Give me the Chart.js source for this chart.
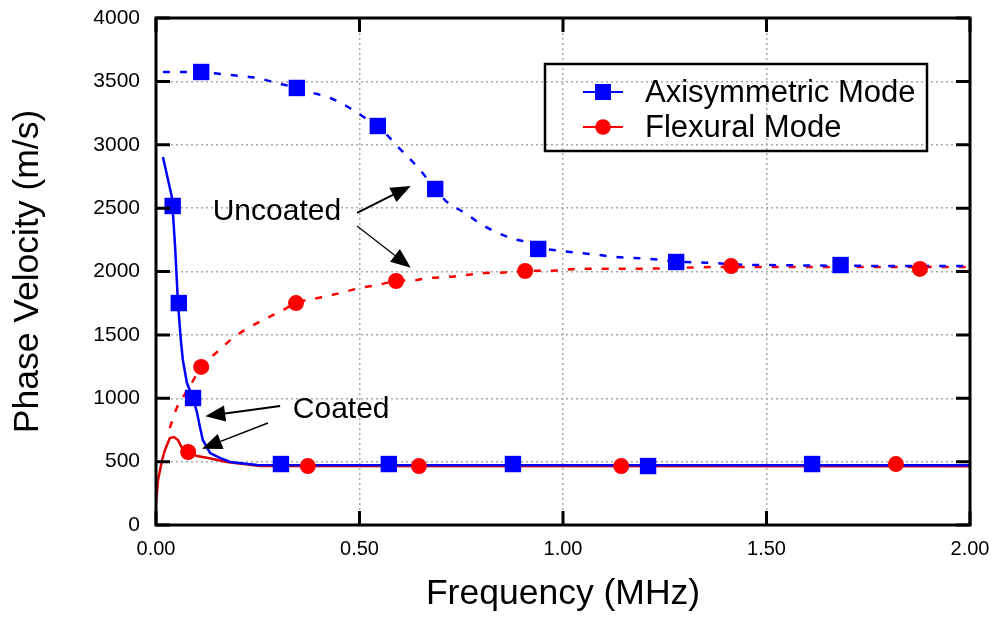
<!DOCTYPE html>
<html>
<head>
<meta charset="utf-8">
<title>Phase Velocity vs Frequency</title>
<script src="https://cdn.jsdelivr.net/npm/chart.js@4.4.1/dist/chart.umd.min.js"></script>
<style>
    html, body { margin: 0; padding: 0; background: #fff; }
    #wrap { width: 995px; height: 621px; }
</style>
</head>
<body>
<div id="wrap"><canvas id="phaseChart" width="995" height="621"></canvas></div>
<script>

// tick values (labels are formatted from these)
const xTickValues = [0, 0.5, 1.0, 1.5, 2.0];
const yTickValues = [0, 500, 1000, 1500, 2000, 2500, 3000, 3500, 4000];

// Axisymmetric mode, uncoated (dashed blue)
const axiUncoatedFreq = [0.017, 0.111, 0.162, 0.206, 0.248, 0.297, 0.346, 0.378, 0.428, 0.472, 0.514, 0.545, 0.563, 0.595, 0.649, 0.686, 0.715, 0.759, 0.794, 0.830, 0.872, 0.916, 0.939, 0.998, 1.044, 1.088, 1.130, 1.216, 1.278, 1.351, 1.432, 1.523, 1.705, 2.0];
const axiUncoatedVel = [3574, 3572, 3558, 3542, 3527, 3487, 3448, 3416, 3369, 3298, 3211, 3148, 3093, 2982, 2801, 2651, 2548, 2462, 2383, 2320, 2264, 2225, 2190, 2162, 2146, 2130, 2114, 2099, 2078, 2070, 2055, 2050, 2045, 2043];
const axiUncoatedMarkFreq = [0.111, 0.346, 0.545, 0.686, 0.939, 1.278, 1.682];
const axiUncoatedMarkVel = [3574, 3448, 3148, 2651, 2178, 2075, 2051];

// Flexural mode, uncoated (dashed red)
const flexUncoatedFreq = [0.034, 0.042, 0.052, 0.081, 0.111, 0.150, 0.189, 0.226, 0.273, 0.312, 0.344, 0.410, 0.452, 0.501, 0.543, 0.590, 0.631, 0.673, 0.717, 0.762, 0.808, 0.853, 0.907, 0.985, 1.029, 1.167, 1.253, 1.297, 1.413, 1.705, 2.0];
const flexUncoatedVel = [765, 844, 931, 1081, 1247, 1365, 1475, 1554, 1633, 1696, 1751, 1799, 1830, 1870, 1893, 1925, 1930, 1949, 1957, 1972, 1988, 1992, 2004, 2008, 2020, 2022, 2025, 2030, 2036, 2036, 2036];
const flexUncoatedMarkFreq = [0.111, 0.344, 0.590, 0.907, 1.413, 1.877];
const flexUncoatedMarkVel = [1247, 1751, 1925, 2004, 2043, 2020];

// Axisymmetric mode, coated (solid blue)
const axiCoatedFreq = [0.017, 0.039, 0.047, 0.054, 0.061, 0.066, 0.076, 0.091, 0.101, 0.108, 0.115, 0.133, 0.157, 0.182, 0.248, 2.0];
const axiCoatedVel = [2903, 2588, 2193, 1751, 1460, 1302, 1120, 1002, 884, 773, 671, 568, 529, 497, 474, 472];
const axiCoatedMarkFreq = [0.041, 0.056, 0.091, 0.307, 0.572, 0.877, 1.209, 1.612];
const axiCoatedMarkVel = [2517, 1751, 1002, 481, 481, 481, 465, 481];

// Flexural mode, coated (solid red)
const flexCoatedFreq = [0.0, 0.005, 0.015, 0.022, 0.034, 0.044, 0.054, 0.064, 0.079, 0.101, 0.128, 0.174, 0.256, 2.0];
const flexCoatedVel = [170, 355, 513, 592, 686, 694, 670, 607, 576, 544, 528, 497, 465, 463];
const flexCoatedMarkFreq = [0.079, 0.373, 0.646, 1.143, 1.818];
const flexCoatedMarkVel = [576, 465, 465, 465, 481];

const BLUE = "#0000ff";
const RED = "#ff0000";
const FONT = "'Liberation Sans', Arial, Helvetica, sans-serif";

function toPoints(xs, ys) {
    return xs.map((x, i) => ({ x: x, y: ys[i] }));
}

function curve(xs, ys, color, dashed) {
    return {
        data: toPoints(xs, ys),
        showLine: true,
        borderColor: color,
        borderWidth: 2.5,
        borderDash: dashed ? [7, 10] : [],
        pointRadius: 0,
        cubicInterpolationMode: dashed ? "monotone" : "default",
        tension: 0,
        order: 2
    };
}

function markers(xs, ys, color, style) {
    return {
        data: toPoints(xs, ys),
        showLine: false,
        pointStyle: style,
        pointRadius: style === "rect" ? 11.6 : 8,
        pointBackgroundColor: color,
        pointBorderColor: color,
        pointBorderWidth: 0,
        order: 1
    };
}

// text + arrows, positions given in data units
const notes = [
    { text: "Uncoated", f: 0.297, v: 2469 },
    { text: "Coated", f: 0.455, v: 907 }
];
const arrows = [
    { f1: 0.494, v1: 2462, f2: 0.626, v2: 2675, w: 2 },
    { f1: 0.494, v1: 2359, f2: 0.626, v2: 2030, w: 1.2 },
    { f1: 0.305, v1: 939, f2: 0.121, v2: 858, w: 2 },
    { f1: 0.275, v1: 805, f2: 0.113, v2: 602, w: 1.5 }
];

function drawArrow(ctx, x1, y1, x2, y2, w) {
    const ang = Math.atan2(y2 - y1, x2 - x1);
    const len = 20;
    const half = 8;
    const bx = x2 - len * Math.cos(ang);
    const by = y2 - len * Math.sin(ang);
    ctx.strokeStyle = "#000";
    ctx.lineWidth = w;
    ctx.beginPath();
    ctx.moveTo(x1, y1);
    ctx.lineTo(bx, by);
    ctx.stroke();
    ctx.fillStyle = "#000";
    ctx.beginPath();
    ctx.moveTo(x2, y2);
    ctx.lineTo(bx + half * Math.sin(ang), by - half * Math.cos(ang));
    ctx.lineTo(bx - half * Math.sin(ang), by + half * Math.cos(ang));
    ctx.closePath();
    ctx.fill();
}

const framePlugin = {
    id: "framePlugin",
    afterDraw(chart) {
        const ctx = chart.ctx;
        const area = chart.chartArea;
        const xs = chart.scales.x;
        const ys = chart.scales.y;
        const tick = 14;

        ctx.save();
        ctx.strokeStyle = "#000";
        ctx.lineWidth = 3;

        // inward ticks on all four sides
        ctx.beginPath();
        xTickValues.forEach(v => {
            const px = xs.getPixelForValue(v);
            ctx.moveTo(px, area.bottom);
            ctx.lineTo(px, area.bottom - tick);
            ctx.moveTo(px, area.top);
            ctx.lineTo(px, area.top + tick);
        });
        yTickValues.forEach(v => {
            const py = ys.getPixelForValue(v);
            ctx.moveTo(area.left, py);
            ctx.lineTo(area.left + tick, py);
            ctx.moveTo(area.right, py);
            ctx.lineTo(area.right - tick, py);
        });
        ctx.stroke();

        ctx.strokeRect(area.left, area.top, area.right - area.left, area.bottom - area.top);

        // annotations
        ctx.font = "30px " + FONT;
        ctx.fillStyle = "#000";
        ctx.textAlign = "center";
        ctx.textBaseline = "middle";
        notes.forEach(n => {
            ctx.fillText(n.text, xs.getPixelForValue(n.f), ys.getPixelForValue(n.v));
        });
        arrows.forEach(a => {
            drawArrow(ctx,
                xs.getPixelForValue(a.f1), ys.getPixelForValue(a.v1),
                xs.getPixelForValue(a.f2), ys.getPixelForValue(a.v2), a.w);
        });

        // legend box
        ctx.strokeStyle = "#000";
        ctx.lineWidth = 2.5;
        ctx.strokeRect(545, 64, 382, 87);
        const rows = [
            { label: "Axisymmetric Mode", color: BLUE, style: "rect", y: 92 },
            { label: "Flexural Mode", color: RED, style: "circle", y: 127 }
        ];
        rows.forEach(r => {
            ctx.strokeStyle = r.color;
            ctx.lineWidth = 2;
            ctx.beginPath();
            ctx.moveTo(583, r.y);
            ctx.lineTo(623, r.y);
            ctx.stroke();
            ctx.fillStyle = r.color;
            if (r.style === "rect") {
                ctx.fillRect(595, r.y - 8, 16, 16);
            } else {
                ctx.beginPath();
                ctx.arc(603, r.y, 7.8, 0, Math.PI * 2);
                ctx.fill();
            }
            ctx.fillStyle = "#000";
            ctx.textAlign = "left";
            ctx.font = "31px " + FONT;
            ctx.fillText(r.label, 645, r.y + 1);
        });

        ctx.restore();
    }
};

const ctx = document.getElementById("phaseChart");

new Chart(ctx, {
    type: "scatter",
    data: {
        datasets: [
            curve(axiUncoatedFreq, axiUncoatedVel, BLUE, true),
            curve(flexUncoatedFreq, flexUncoatedVel, RED, true),
            curve(axiCoatedFreq, axiCoatedVel, BLUE, false),
            curve(flexCoatedFreq, flexCoatedVel, "#e00000", false),
            markers(axiUncoatedMarkFreq, axiUncoatedMarkVel, BLUE, "rect"),
            markers(flexUncoatedMarkFreq, flexUncoatedMarkVel, RED, "circle"),
            markers(axiCoatedMarkFreq, axiCoatedMarkVel, BLUE, "rect"),
            markers(flexCoatedMarkFreq, flexCoatedMarkVel, RED, "circle")
        ]
    },
    options: {
        responsive: false,
        animation: false,
        devicePixelRatio: 1,
        layout: {
            padding: { top: 18, right: 25, left: 0, bottom: 0 }
        },
        plugins: {
            legend: { display: false },
            tooltip: { enabled: false }
        },
        scales: {
            x: {
                type: "linear",
                min: 0,
                max: 2,
                afterBuildTicks: scale => {
                    scale.ticks = xTickValues.map(v => ({ value: v }));
                },
                afterFit: scale => {
                    scale.height = 96;
                    scale.paddingLeft = 0;
                    scale.paddingRight = 0;
                },
                ticks: {
                    color: "#000",
                    padding: 12,
                    maxRotation: 0,
                    font: { size: 20, family: FONT },
                    callback: v => v.toFixed(2)
                },
                grid: {
                    drawTicks: false,
                    color: "#a8a8a8",
                    lineWidth: 1.5
                },
                border: { display: false, dash: [2, 3] },
                title: {
                    display: true,
                    text: "Frequency (MHz)",
                    color: "#000",
                    font: { size: 35.5, family: FONT },
                    padding: { top: 0, bottom: 5 }
                }
            },
            y: {
                type: "linear",
                min: 0,
                max: 4000,
                afterBuildTicks: scale => {
                    scale.ticks = yTickValues.map(v => ({ value: v }));
                },
                afterFit: scale => {
                    scale.width = 156;
                    scale.paddingTop = 0;
                    scale.paddingBottom = 0;
                },
                ticks: {
                    color: "#000",
                    padding: 16,
                    font: { size: 21, family: FONT },
                    callback: v => String(v)
                },
                grid: {
                    drawTicks: false,
                    color: "#a8a8a8",
                    lineWidth: 1.5
                },
                border: { display: false, dash: [2, 3] },
                title: {
                    display: true,
                    text: "Phase Velocity (m/s)",
                    color: "#000",
                    font: { size: 35.5, family: FONT },
                    padding: { top: 7, bottom: 0 }
                }
            }
        }
    },
    plugins: [framePlugin]
});

</script>
</body>
</html>
